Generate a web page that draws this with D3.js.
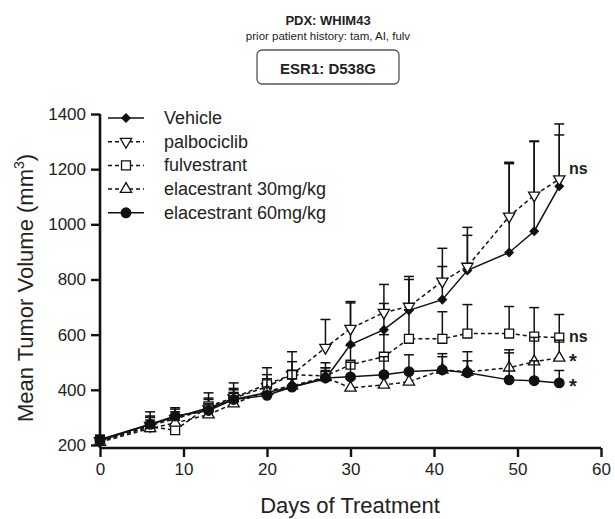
<!DOCTYPE html>
<html>
<head>
<meta charset="utf-8">
<script src="https://cdn.jsdelivr.net/npm/d3@7"></script>
<style>
  body { margin: 0; background: #fff; }
  text { font-family: "Liberation Sans", Arial, sans-serif; fill: #222; }
</style>
</head>
<body>
<div id="chart-area"></div>
<script>
// days of treatment
let days = [0, 6, 9, 13, 16, 20, 23, 27, 30, 34, 37, 41, 44, 49, 52, 55];

// means and upper error (SEM) per group
let vehicle = [220, 275, 300, 335, 365, 390, 410, 440, 564, 618, 688, 727, 833, 898, 975, 1138];
let vehicleErr = [15, 45, 35, 35, 40, 40, 45, 40, 156, 95, 112, 120, 127, 322, 327, 186];

let palbo = [215, 270, 295, 330, 370, 411, 455, 553, 622, 680, 702, 793, 847, 1029, 1105, 1164];
let palboErr = [15, 35, 35, 59, 55, 69, 83, 102, 93, 102, 109, 120, 142, 196, 195, 200];

let fulv = [215, 265, 254, 340, 371, 420, 455, 450, 491, 520, 585, 585, 604, 604, 593, 589];
let fulvErr = [20, 35, 36, 25, 29, 35, 47, 48, 69, 80, 105, 98, 105, 98, 105, 84];

let ela30 = [210, 260, 280, 310, 350, 395, 415, 445, 407, 418, 429, 472, 465, 480, 502, 516];
let ela30Err = [20, 30, 30, 35, 40, 45, 55, 35, 33, 27, 41, 48, 40, 54, 88, 64];

let ela60 = [215, 275, 305, 325, 365, 380, 410, 443, 447, 455, 466, 472, 462, 436, 433, 425];
let ela60Err = [15, 25, 15, 25, 25, 30, 30, 27, 53, 65, 61, 59, 76, 109, 72, 45];

let groupNames = ["Vehicle", "palbociclib", "fulvestrant", "elacestrant 30mg/kg", "elacestrant 60mg/kg"];
let sigLabels = ["ns", "ns", "*", "*"];
let sigValues = [1200, 590, 518, 428];

let xTicks = [0, 10, 20, 30, 40, 50, 60];
let yTicks = [200, 400, 600, 800, 1000, 1200, 1400];

let groups = [
    { name: groupNames[0], mean: vehicle, err: vehicleErr, shape: d3.symbolSquare, size: 34, fill: "#111", dash: null, rot: 45 },
    { name: groupNames[1], mean: palbo, err: palboErr, shape: d3.symbolTriangle, size: 55, fill: "#fff", dash: "4,3", rot: 180 },
    { name: groupNames[2], mean: fulv, err: fulvErr, shape: d3.symbolSquare, size: 80, fill: "#fff", dash: "4,3", rot: 0 },
    { name: groupNames[3], mean: ela30, err: ela30Err, shape: d3.symbolTriangle, size: 55, fill: "#fff", dash: "4,3", rot: 0 },
    { name: groupNames[4], mean: ela60, err: ela60Err, shape: d3.symbolCircle, size: 72, fill: "#111", dash: null, rot: 0 }
];

let svg = d3.select("#chart-area")
    .append("svg")
    .attr("width", 615)
    .attr("height", 519);

let x = d3.scaleLinear()
    .domain([0, 60])
    .range([100, 601]);

let y = d3.scaleLinear()
    .domain([189, 1400])
    .range([448, 114]);

// header
svg.append("text")
    .attr("x", 328).attr("y", 25)
    .attr("text-anchor", "middle")
    .attr("font-size", 13).attr("font-weight", "bold")
    .text("PDX: WHIM43");
svg.append("text")
    .attr("x", 328).attr("y", 40)
    .attr("text-anchor", "middle")
    .attr("font-size", 11.5)
    .text("prior patient history: tam, AI, fulv");
svg.append("rect")
    .attr("x", 257).attr("y", 50)
    .attr("width", 142).attr("height", 34)
    .attr("rx", 5)
    .attr("fill", "none")
    .attr("stroke", "#555")
    .attr("stroke-width", 1.3);
svg.append("text")
    .attr("x", 328).attr("y", 74)
    .attr("text-anchor", "middle")
    .attr("font-size", 15).attr("font-weight", "bold")
    .text("ESR1: D538G");

// axes
let xAxis = svg.append("g")
    .attr("transform", "translate(0,448)")
    .call(d3.axisBottom(x).tickValues(xTicks).tickFormat(d3.format("d")).tickSize(9).tickPadding(6));
let yAxis = svg.append("g")
    .attr("transform", "translate(100,0)")
    .call(d3.axisLeft(y).tickValues(yTicks).tickFormat(d3.format("d")).tickSize(9).tickPadding(5));

[xAxis, yAxis].forEach(function (a) {
    a.select(".domain").attr("stroke", "#111").attr("stroke-width", 2.6);
    a.selectAll(".tick line").attr("stroke", "#111").attr("stroke-width", 2.4);
    a.selectAll(".tick text")
        .attr("font-size", 17)
        .attr("font-family", "Liberation Sans, Arial, sans-serif")
        .attr("fill", "#222");
});
xAxis.select(".domain").attr("d", "M100,0H601");
yAxis.select(".domain").attr("d", "M0,448V114");

svg.append("text")
    .attr("x", 350).attr("y", 513)
    .attr("text-anchor", "middle")
    .attr("font-size", 22)
    .text("Days of Treatment");

let yTitle = svg.append("text")
    .attr("transform", "translate(33,288) rotate(-90)")
    .attr("text-anchor", "middle")
    .attr("font-size", 22);
yTitle.append("tspan").text("Mean Tumor Volume (mm");
yTitle.append("tspan").attr("font-size", 14).attr("dy", -9).text("3");
yTitle.append("tspan").attr("dy", 9).text(")");

// series
let line = d3.line()
    .x(function (d, i) { return x(days[i]); })
    .y(function (d) { return y(d); });

let plot = svg.append("g");

groups.forEach(function (g) {
    let gg = plot.append("g");

    // upper error bars
    let bars = gg.selectAll(".err").data(g.mean).enter().append("g");
    bars.append("line")
        .attr("x1", function (d, i) { return x(days[i]); })
        .attr("x2", function (d, i) { return x(days[i]); })
        .attr("y1", function (d) { return y(d); })
        .attr("y2", function (d, i) { return y(d + g.err[i]); })
        .attr("stroke", "#111").attr("stroke-width", 1.5);
    bars.append("line")
        .attr("x1", function (d, i) { return x(days[i]) - 5; })
        .attr("x2", function (d, i) { return x(days[i]) + 5; })
        .attr("y1", function (d, i) { return y(d + g.err[i]); })
        .attr("y2", function (d, i) { return y(d + g.err[i]); })
        .attr("stroke", "#111").attr("stroke-width", 1.5);

    gg.append("path")
        .attr("d", line(g.mean))
        .attr("fill", "none")
        .attr("stroke", "#111")
        .attr("stroke-width", 1.5)
        .attr("stroke-dasharray", g.dash);

    gg.selectAll(".pt").data(g.mean).enter().append("path")
        .attr("d", d3.symbol().type(g.shape).size(g.size))
        .attr("transform", function (d, i) {
            return "translate(" + x(days[i]) + "," + y(d) + ") rotate(" + g.rot + ")";
        })
        .attr("fill", g.fill)
        .attr("stroke", "#111")
        .attr("stroke-width", 1.3);
});

// significance marks
svg.selectAll(".sig").data(sigLabels).enter().append("text")
    .attr("x", 569)
    .attr("y", function (d, i) { return y(sigValues[i]) + (d === "*" ? 11 : 5); })
    .attr("font-size", function (d) { return d === "*" ? 20 : 16; })
    .attr("font-weight", "bold")
    .text(function (d) { return d; });

// legend
let legend = svg.append("g");
groups.forEach(function (g, i) {
    let ly = 118 + i * 23.7;
    legend.append("line")
        .attr("x1", 108).attr("x2", 144)
        .attr("y1", ly).attr("y2", ly)
        .attr("stroke", "#111").attr("stroke-width", 1.5)
        .attr("stroke-dasharray", g.dash);
    legend.append("path")
        .attr("d", d3.symbol().type(g.shape).size(g.size))
        .attr("transform", "translate(126," + ly + ") rotate(" + g.rot + ")")
        .attr("fill", g.fill)
        .attr("stroke", "#111")
        .attr("stroke-width", 1.3);
    legend.append("text")
        .attr("x", 164).attr("y", ly + 6)
        .attr("font-size", 18)
        .text(g.name);
});
</script>
</body>
</html>
